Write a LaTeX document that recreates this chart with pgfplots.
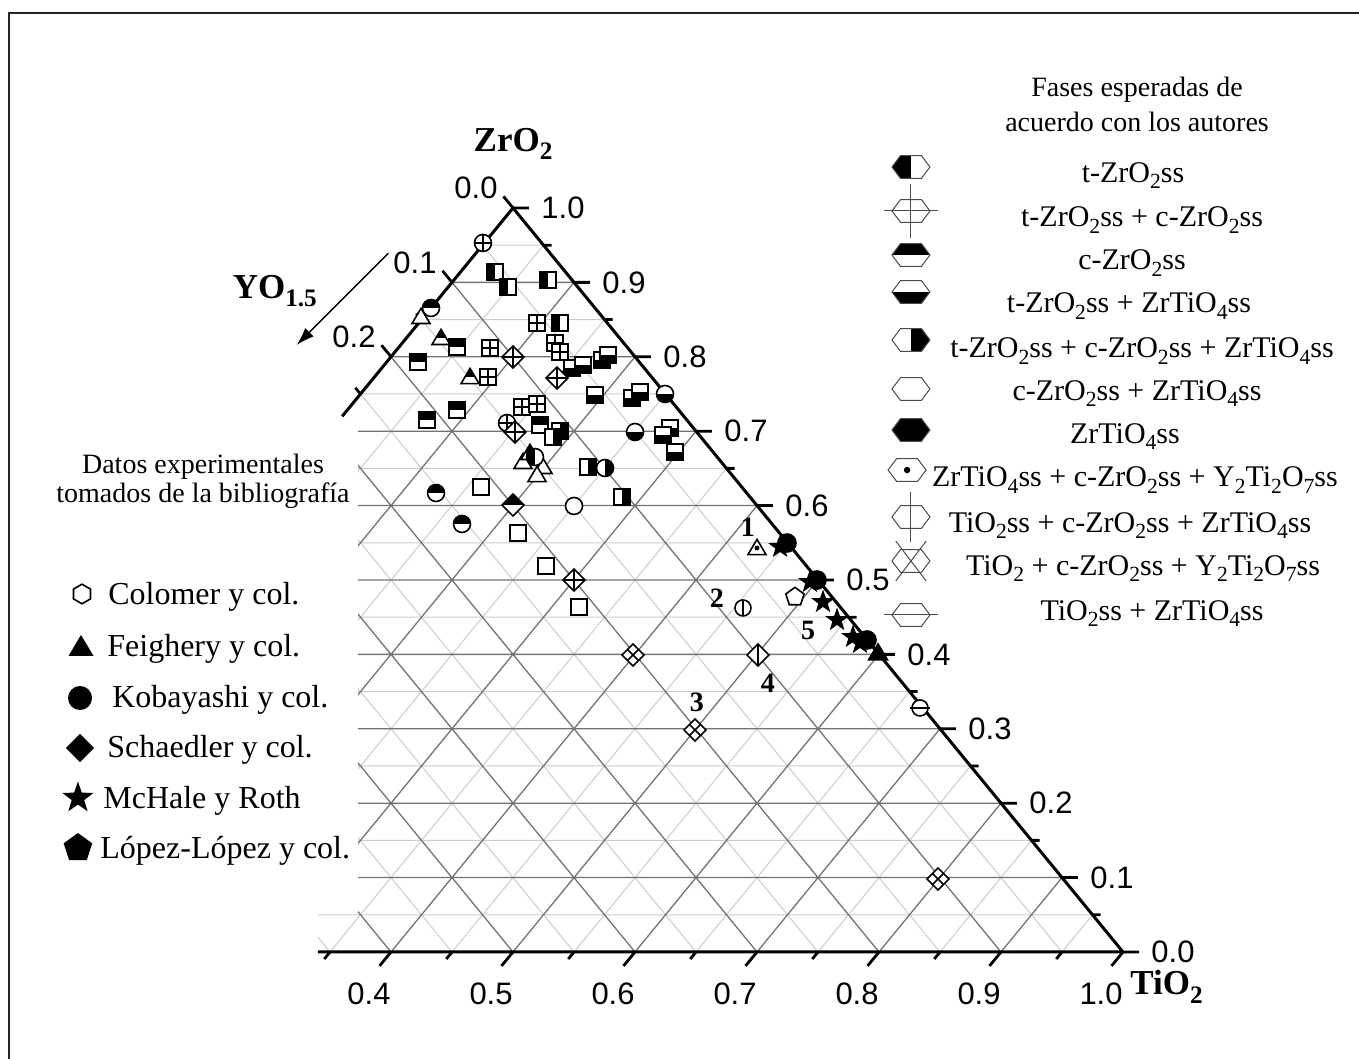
\documentclass[border=0pt]{standalone}
\usepackage{pgfplots}
\pgfplotsset{compat=1.18}
\usepackage{graphicx}
\usepackage{fontspec}
\setmainfont{Liberation Serif}
\newfontfamily\sansf{Liberation Sans}
\usetikzlibrary{arrows.meta}
\newcommand\sub[1]{\raisebox{-0.5ex}{\scalebox{0.72}{#1}}}
\newcommand\tickf{\sansf\fontsize{15.5}{18}\selectfont}
\newcommand\legf{\fontsize{15}{18}\selectfont}
\newcommand\leftf{\fontsize{16}{19}\selectfont}
\newcommand\boldf{\bfseries\fontsize{17.5}{20}\selectfont}
% ---- mark construction helpers
\def\pp#1#2{\pgfpoint{#1\pgfplotmarksize}{#2\pgfplotmarksize}}
\def\Mto#1#2{\pgfpathmoveto{\pp{#1}{#2}}}
\def\Lto#1#2{\pgfpathlineto{\pp{#1}{#2}}}
\def\shpsq{\pgfpathrectangle{\pp{-1}{-1}}{\pp{2}{2}}}
\def\shpci{\pgfpathcircle{\pgfpointorigin}{\pgfplotmarksize}}
\def\shptr{\Mto{0}{1.05}\Lto{1.1}{-0.8}\Lto{-1.1}{-0.8}\pgfpathclose}
\def\shpdi{\Mto{0}{1}\Lto{1}{0}\Lto{0}{-1}\Lto{-1}{0}\pgfpathclose}
\def\shphx{\Mto{-1}{0}\Lto{-0.55}{0.6}\Lto{0.55}{0.6}\Lto{1}{0}\Lto{0.55}{-0.6}\Lto{-0.55}{-0.6}\pgfpathclose}
\def\shphr{\Mto{0}{1}\Lto{0.866}{0.5}\Lto{0.866}{-0.5}\Lto{0}{-1}\Lto{-0.866}{-0.5}\Lto{-0.866}{0.5}\pgfpathclose}
\def\shpst{\Mto{0}{1}\Lto{0.235}{0.324}\Lto{0.951}{0.309}\Lto{0.380}{-0.124}\Lto{0.588}{-0.809}\Lto{0}{-0.4}\Lto{-0.588}{-0.809}\Lto{-0.380}{-0.124}\Lto{-0.951}{0.309}\Lto{-0.235}{0.324}\pgfpathclose}
\def\shppe{\Mto{0}{1}\Lto{0.951}{0.309}\Lto{0.588}{-0.809}\Lto{-0.588}{-0.809}\Lto{-0.951}{0.309}\pgfpathclose}
\def\patL{\pgfpathrectangle{\pp{-3}{-3}}{\pp{3}{6}}\pgfusepath{fill}}
\def\patR{\pgfpathrectangle{\pp{0}{-3}}{\pp{3}{6}}\pgfusepath{fill}}
\def\patT{\pgfpathrectangle{\pp{-3}{0}}{\pp{6}{3}}\pgfusepath{fill}}
\def\patB{\pgfpathrectangle{\pp{-3}{-3}}{\pp{6}{3}}\pgfusepath{fill}}
\def\patF{\pgfpathrectangle{\pp{-3}{-3}}{\pp{6}{6}}\pgfusepath{fill}}
\def\patO{}
\def\ovN{}
\def\ovP{\Mto{-1}{0}\Lto{1}{0}\Mto{0}{-1}\Lto{0}{1}\pgfusepath{stroke}}
\def\ovQ{\Mto{-1.4}{0}\Lto{1.4}{0}\Mto{0}{-1.4}\Lto{0}{1.4}\pgfusepath{stroke}}
\def\ovV{\Mto{0}{-1.3}\Lto{0}{1.3}\pgfusepath{stroke}}
\def\ovv{\Mto{0}{-1}\Lto{0}{1}\pgfusepath{stroke}}
\def\ovH{\Mto{-1.4}{0}\Lto{1.4}{0}\pgfusepath{stroke}}
\def\ovh{\Mto{-1.3}{0}\Lto{1.3}{0}\pgfusepath{stroke}}
\def\ovX{\Mto{-0.8}{-1.05}\Lto{0.8}{1.05}\Mto{-0.8}{1.05}\Lto{0.8}{-1.05}\pgfusepath{stroke}}
\def\ovx{\Mto{-0.5}{-0.5}\Lto{0.5}{0.5}\Mto{-0.5}{0.5}\Lto{0.5}{-0.5}\pgfusepath{stroke}}
\def\ovD{\pgfpathcircle{\pgfpointorigin}{0.17\pgfplotmarksize}\pgfsetfillcolor{black}\pgfusepath{fill}}
\def\ovd{\pgfpathcircle{\pgfpointorigin}{0.3\pgfplotmarksize}\pgfsetfillcolor{black}\pgfusepath{fill}}
\newcommand\mkmark[4]{%
  \pgfdeclareplotmark{#1}{%
    \pgfsetfillcolor{white}\csname shp#2\endcsname\pgfusepath{fill}%
    \begin{pgfscope}\csname shp#2\endcsname\pgfusepath{clip}\pgfsetfillcolor{black}\csname pat#3\endcsname\end{pgfscope}%
    \csname shp#2\endcsname\pgfusepath{stroke}%
    \csname ov#4\endcsname}}
\mkmark{sqL}{sq}{L}{N}\mkmark{sqR}{sq}{R}{N}\mkmark{sqT}{sq}{T}{N}\mkmark{sqB}{sq}{B}{N}
\mkmark{sqP}{sq}{O}{P}\mkmark{sqO}{sq}{O}{N}
\mkmark{ciT}{ci}{T}{N}\mkmark{ciB}{ci}{B}{N}\mkmark{ciL}{ci}{L}{N}\mkmark{ciR}{ci}{R}{N}
\mkmark{ciO}{ci}{O}{N}\mkmark{ciP}{ci}{O}{P}\mkmark{ciV}{ci}{O}{v}\mkmark{ciH}{ci}{O}{h}\mkmark{ciF}{ci}{F}{N}
\mkmark{trO}{tr}{O}{N}\mkmark{trT}{tr}{T}{N}\mkmark{trD}{tr}{O}{d}\mkmark{trF}{tr}{F}{N}
\mkmark{diP}{di}{O}{P}\mkmark{diT}{di}{T}{N}\mkmark{diX}{di}{O}{x}\mkmark{diV}{di}{O}{v}\mkmark{diF}{di}{F}{N}
\mkmark{stF}{st}{F}{N}\mkmark{peO}{pe}{O}{N}\mkmark{peF}{pe}{F}{N}\mkmark{hrO}{hr}{O}{N}
\mkmark{hxL}{hx}{L}{N}\mkmark{hxQ}{hx}{O}{Q}\mkmark{hxT}{hx}{T}{N}\mkmark{hxB}{hx}{B}{N}
\mkmark{hxR}{hx}{R}{N}\mkmark{hxO}{hx}{O}{N}\mkmark{hxF}{hx}{F}{N}\mkmark{hxD}{hx}{O}{D}
\mkmark{hxV}{hx}{O}{V}\mkmark{hxX}{hx}{O}{X}\mkmark{hxH}{hx}{O}{H}
\pgfplotsset{
  dm/.style={black, only marks, mark=#1, mark options={line width=0.8pt}},
  lm/.style={black!70, only marks, mark=#1, mark size=9.5pt, mark options={line width=0.5pt}},
}
\begin{document}
\begin{tikzpicture}
\begin{axis}[
  scale only axis, width=679.5pt, height=529.5pt,
  xmin=0.079508, xmax=1.193443, ymin=-0.143817, ymax=1.279570,
  hide axis, clip=false, unbounded coords=jump,
]
% ---------- frame
\addplot[black!85, line width=1.2pt] coordinates {(0.0869,-0.1438) (0.0869,1.2621) (1.1934,1.2621)};
% ---------- minor grid
\addplot[black!20, line width=0.5pt] coordinates {
(0.34,0.05)(0.975,0.05) (nan,nan) (0.34,0.15)(0.925,0.15) (nan,nan)
(0.34,0.25)(0.875,0.25) (nan,nan) (0.34,0.35)(0.825,0.35) (nan,nan)
(0.34,0.45)(0.775,0.45) (nan,nan) (0.34,0.55)(0.725,0.55) (nan,nan)
(0.34,0.65)(0.675,0.65) (nan,nan) (0.375,0.75)(0.625,0.75) (nan,nan)
(0.425,0.85)(0.575,0.85) (nan,nan) (0.475,0.95)(0.525,0.95) (nan,nan)
(0.34,0.58)(0.525,0.95) (nan,nan) (0.34,0.38)(0.575,0.85) (nan,nan)
(0.34,0.18)(0.625,0.75) (nan,nan) (0.35,0)(0.675,0.65) (nan,nan)
(0.45,0)(0.725,0.55) (nan,nan) (0.55,0)(0.775,0.45) (nan,nan)
(0.65,0)(0.825,0.35) (nan,nan) (0.75,0)(0.875,0.25) (nan,nan)
(0.85,0)(0.925,0.15) (nan,nan) (0.95,0)(0.975,0.05) (nan,nan)
(0.95,0)(0.475,0.95) (nan,nan) (0.85,0)(0.425,0.85) (nan,nan)
(0.75,0)(0.375,0.75) (nan,nan) (0.65,0)(0.34,0.62) (nan,nan)
(0.55,0)(0.34,0.42) (nan,nan) (0.45,0)(0.34,0.22) (nan,nan)
(0.35,0)(0.34,0.02)};
% ---------- major grid
\addplot[black!55, line width=0.65pt] coordinates {
(0.34,0.1)(0.95,0.1) (nan,nan) (0.34,0.2)(0.9,0.2) (nan,nan)
(0.34,0.3)(0.85,0.3) (nan,nan) (0.34,0.4)(0.8,0.4) (nan,nan)
(0.34,0.5)(0.75,0.5) (nan,nan) (0.34,0.6)(0.7,0.6) (nan,nan)
(0.35,0.7)(0.65,0.7) (nan,nan) (0.4,0.8)(0.6,0.8) (nan,nan)
(0.45,0.9)(0.55,0.9) (nan,nan)
(0.34,0.48)(0.55,0.9) (nan,nan) (0.34,0.28)(0.6,0.8) (nan,nan)
(0.34,0.08)(0.65,0.7) (nan,nan) (0.4,0)(0.7,0.6) (nan,nan)
(0.5,0)(0.75,0.5) (nan,nan) (0.6,0)(0.8,0.4) (nan,nan)
(0.7,0)(0.85,0.3) (nan,nan) (0.8,0)(0.9,0.2) (nan,nan)
(0.9,0)(0.95,0.1) (nan,nan)
(0.9,0)(0.45,0.9) (nan,nan) (0.8,0)(0.4,0.8) (nan,nan)
(0.7,0)(0.35,0.7) (nan,nan) (0.6,0)(0.34,0.52) (nan,nan)
(0.5,0)(0.34,0.32) (nan,nan) (0.4,0)(0.34,0.12)};
% ---------- white band behind the left legend
\addplot[fill=white, draw=none] coordinates {(0.33,0.054) (0.373,0.054) (0.373,0.715) (0.33,0.715)} -- cycle;
% ---------- triangle edges and ticks
\addplot[black, line width=1.5pt] coordinates {(0.34,0) (1,0) (0.5,1) (0.36,0.72)};
\addplot[black, line width=1.4pt] coordinates {
(1,0)(1.0131,0) (nan,nan) (0.95,0.1)(0.9631,0.1) (nan,nan) (0.9,0.2)(0.9131,0.2) (nan,nan)
(0.85,0.3)(0.8631,0.3) (nan,nan) (0.8,0.4)(0.8131,0.4) (nan,nan) (0.75,0.5)(0.7631,0.5) (nan,nan)
(0.7,0.6)(0.7131,0.6) (nan,nan) (0.65,0.7)(0.6631,0.7) (nan,nan) (0.6,0.8)(0.6131,0.8) (nan,nan)
(0.55,0.9)(0.5631,0.9) (nan,nan) (0.5,1)(0.5131,1) (nan,nan)
(0.975,0.05)(0.9816,0.05) (nan,nan) (0.925,0.15)(0.9316,0.15) (nan,nan) (0.875,0.25)(0.8816,0.25) (nan,nan)
(0.825,0.35)(0.8316,0.35) (nan,nan) (0.775,0.45)(0.7816,0.45) (nan,nan) (0.725,0.55)(0.7316,0.55) (nan,nan)
(0.675,0.65)(0.6816,0.65) (nan,nan) (0.625,0.75)(0.6316,0.75) (nan,nan) (0.575,0.85)(0.5816,0.85) (nan,nan)
(0.525,0.95)(0.5316,0.95) (nan,nan)
(0.4,0)(0.3906,-0.0187) (nan,nan) (0.5,0)(0.4906,-0.0187) (nan,nan) (0.6,0)(0.5906,-0.0187) (nan,nan)
(0.7,0)(0.6906,-0.0187) (nan,nan) (0.8,0)(0.7906,-0.0187) (nan,nan) (0.9,0)(0.8906,-0.0187) (nan,nan)
(1,0)(0.9906,-0.0187) (nan,nan)
(0.35,0)(0.3453,-0.0094) (nan,nan) (0.45,0)(0.4453,-0.0094) (nan,nan) (0.55,0)(0.5453,-0.0094) (nan,nan)
(0.65,0)(0.6453,-0.0094) (nan,nan) (0.75,0)(0.7453,-0.0094) (nan,nan) (0.85,0)(0.8453,-0.0094) (nan,nan)
(0.95,0)(0.9453,-0.0094) (nan,nan)
(0.5,1)(0.4922,1.0156) (nan,nan) (0.45,0.9)(0.4422,0.9156) (nan,nan) (0.4,0.8)(0.3922,0.8156) (nan,nan)
(0.475,0.95)(0.4708,0.9583) (nan,nan) (0.425,0.85)(0.4208,0.8583) (nan,nan) (0.375,0.75)(0.3708,0.7583)};
% ---------- arrow of YO1.5
\addplot[black, line width=0.7pt, -{Latex[length=9pt,width=6pt]}] coordinates {(0.3978,0.9391) (0.3227,0.8159)};
% ---------- data: squares
\addplot[dm=sqL, mark size=3.9pt] coordinates {(0.4852,0.9140) (0.4959,0.8938) (0.5287,0.9032) (0.5385,0.8454)};
\addplot[dm=sqT, mark size=3.9pt] coordinates {(0.4221,0.7930) (0.4295,0.7151) (0.4541,0.7285) (0.4541,0.8132) (0.5221,0.7083)};
\addplot[dm=sqP, mark size=3.9pt] coordinates {(0.5197,0.8454) (0.4811,0.8118) (0.5344,0.8185) (0.5385,0.8065) (0.4795,0.7728) (0.5074,0.7325) (0.5197,0.7366)};
\addplot[dm=sqB, mark size=3.9pt] coordinates {(0.5484,0.7849) (0.5574,0.7890) (0.5730,0.7957) (0.5779,0.8024) (0.5672,0.7487) (0.5975,0.7446) (0.6041,0.7527) (0.6287,0.7043) (0.6230,0.6949) (0.6328,0.6720)};
\addplot[dm=sqR, mark size=3.9pt] coordinates {(0.5385,0.7003) (0.5328,0.6922) (0.5615,0.6519) (0.5893,0.6116)};
\addplot[dm=sqO, mark size=3.9pt] coordinates {(0.4738,0.6250) (0.5041,0.5632) (0.5270,0.5188) (0.5541,0.4637)};
% circles
\addplot[dm=ciT, mark size=4.25pt] coordinates {(0.4328,0.8656) (0.4369,0.6169) (0.4582,0.5753)};
\addplot[dm=ciB, mark size=4.25pt] coordinates {(0.6246,0.7500) (0.6000,0.6989)};
\addplot[dm=ciR, mark size=4.25pt] coordinates {(0.5754,0.6505)};
\addplot[dm=ciO, mark size=4.25pt] coordinates {(0.5500,0.5995)};
\addplot[dm=ciP, mark size=4.25pt] coordinates {(0.4754,0.9530) (0.4951,0.7110)};
\addplot[dm=ciV, mark size=4pt] coordinates {(0.6885,0.4624)};
\addplot[dm=ciH, mark size=4pt] coordinates {(0.8336,0.3280)};
% triangles
\addplot[dm=trO, mark size=4.1pt] coordinates {(0.4246,0.8535) (0.5082,0.6586) (0.5246,0.6519) (0.5197,0.6411)};
\addplot[dm=trT, mark size=4.1pt] coordinates {(0.4410,0.8253) (0.4648,0.7728) (0.5139,0.6707)};
\addplot[dm=ciL, mark size=4.25pt] coordinates {(0.5180,0.6653)};
\addplot[dm=trD, mark size=4.1pt] coordinates {(0.7000,0.5430)};
% diamonds
\addplot[dm=diP, mark size=5.5pt] coordinates {(0.5000,0.7997) (0.5361,0.7715) (0.5016,0.6989) (0.5500,0.5000)};
\addplot[dm=diT, mark size=5.5pt] coordinates {(0.5000,0.6008)};
\addplot[dm=diX, mark size=5.5pt] coordinates {(0.5984,0.3992) (0.6492,0.2984) (0.8484,0.0981)};
\addplot[dm=diV, mark size=5.5pt] coordinates {(0.7008,0.3992)};
% pentagon, stars, filled markers on the edge
\addplot[dm=peO, mark size=4.8pt] coordinates {(0.7311,0.4772)};
\addplot[dm=ciF, mark size=4.5pt] coordinates {(0.7246,0.5497) (0.7492,0.5000) (0.7902,0.4194)};
\addplot[dm=stF, mark size=5pt] coordinates {(0.7189,0.5444) (0.7434,0.4973) (0.7541,0.4704) (0.7656,0.4462) (0.7787,0.4234) (0.7844,0.4153)};
\addplot[dm=trF, mark size=4.3pt] coordinates {(0.7992,0.4019)};
% ---------- right legend markers
\addplot[lm=hxL] coordinates {(0.8262,1.0551)};
\addplot[lm=hxQ] coordinates {(0.8262,0.9960)};
\addplot[lm=hxT] coordinates {(0.8262,0.9368)};
\addplot[lm=hxB] coordinates {(0.8262,0.8871)};
\addplot[lm=hxR] coordinates {(0.8262,0.8226)};
\addplot[lm=hxO] coordinates {(0.8262,0.7567)};
\addplot[lm=hxF] coordinates {(0.8262,0.7016)};
\addplot[lm=hxD] coordinates {(0.8230,0.6478)};
\addplot[lm=hxV] coordinates {(0.8262,0.5847)};
\addplot[lm=hxX] coordinates {(0.8262,0.5255)};
\addplot[lm=hxH] coordinates {(0.8262,0.4530)};
% ---------- left legend markers
\addplot[dm=hrO, mark size=4.9pt] coordinates {(0.1467,0.4812)};
\addplot[dm=trF, mark size=5pt] coordinates {(0.1459,0.4099)};
\addplot[dm=ciF, mark size=5.6pt] coordinates {(0.1451,0.3414)};
\addplot[dm=diF, mark size=6.5pt] coordinates {(0.1451,0.2742)};
\addplot[dm=stF, mark size=7pt] coordinates {(0.1434,0.2070)};
\addplot[dm=peF, mark size=7pt] coordinates {(0.1434,0.1398)};
% ---------- texts
\node[anchor=base, font=\fontsize{14}{17}\selectfont] at (1.0115,1.1492) {Fases esperadas de};
\node[anchor=base, font=\fontsize{14}{17}\selectfont] at (1.0115,1.1022) {acuerdo con los autores};
\node[anchor=base, font=\legf] at (1.0082,1.0349) {t-ZrO\sub{2}ss};
\node[anchor=base, font=\legf] at (1.0156,0.9745) {t-ZrO\sub{2}ss + c-ZrO\sub{2}ss};
\node[anchor=base, font=\legf] at (1.0074,0.9167) {c-ZrO\sub{2}ss};
\node[anchor=base, font=\legf] at (1.0049,0.8589) {t-ZrO\sub{2}ss + ZrTiO\sub{4}ss};
\node[anchor=base, font=\legf] at (1.0156,0.7984) {t-ZrO\sub{2}ss + c-ZrO\sub{2}ss + ZrTiO\sub{4}ss};
\node[anchor=base, font=\legf] at (1.0115,0.7419) {c-ZrO\sub{2}ss + ZrTiO\sub{4}ss};
\node[anchor=base, font=\legf] at (1.0016,0.6841) {ZrTiO\sub{4}ss};
\node[anchor=base, font=\legf] at (1.0098,0.6250) {ZrTiO\sub{4}ss + c-ZrO\sub{2}ss + Y\sub{2}Ti\sub{2}O\sub{7}ss};
\node[anchor=base, font=\legf] at (1.0057,0.5645) {TiO\sub{2}ss + c-ZrO\sub{2}ss + ZrTiO\sub{4}ss};
\node[anchor=base, font=\legf] at (1.0164,0.5067) {TiO\sub{2} + c-ZrO\sub{2}ss + Y\sub{2}Ti\sub{2}O\sub{7}ss};
\node[anchor=base, font=\legf] at (1.0238,0.4462) {TiO\sub{2}ss + ZrTiO\sub{4}ss};
\node[anchor=base, font=\fontsize{14}{17}\selectfont] at (0.2459,0.6438) {Datos experimentales};
\node[anchor=base, font=\fontsize{14}{17}\selectfont] at (0.2459,0.6035) {tomados de la bibliografía};
\node[anchor=base west, font=\leftf, inner sep=0pt] at (0.1680,0.4664) {Colomer y col.};
\node[anchor=base west, font=\leftf, inner sep=0pt] at (0.1672,0.3965) {Feighery y col.};
\node[anchor=base west, font=\leftf, inner sep=0pt] at (0.1713,0.3280) {Kobayashi y col.};
\node[anchor=base west, font=\leftf, inner sep=0pt] at (0.1672,0.2608) {Schaedler y col.};
\node[anchor=base west, font=\leftf, inner sep=0pt] at (0.1639,0.1935) {McHale y Roth};
\node[anchor=base west, font=\leftf, inner sep=0pt] at (0.1615,0.1263) {López-López y col.};
% axis titles
\node[anchor=base, font=\boldf] at (0.5,1.0753) {ZrO\sub{2}};
\node[anchor=base west, font=\boldf, inner sep=0pt] at (0.2700,0.8790) {YO\sub{1.5}};
\node[anchor=base west, font=\boldf, inner sep=0pt] at (1.0057,-0.0578) {TiO\sub{2}};
% numbered points
\node[font=\bfseries\fontsize{14}{16}\selectfont] at (0.6926,0.5712) {1};
\node[font=\bfseries\fontsize{14}{16}\selectfont] at (0.6672,0.4758) {2};
\node[font=\bfseries\fontsize{14}{16}\selectfont] at (0.6508,0.3360) {3};
\node[font=\bfseries\fontsize{14}{16}\selectfont] at (0.7090,0.3616) {4};
\node[font=\bfseries\fontsize{14}{16}\selectfont] at (0.7418,0.4328) {5};
% tick labels, right side (ZrO2)
\node[anchor=west, font=\tickf, inner sep=0pt] at (1.023,0) {0.0};
\node[anchor=west, font=\tickf, inner sep=0pt] at (0.973,0.1) {0.1};
\node[anchor=west, font=\tickf, inner sep=0pt] at (0.923,0.2) {0.2};
\node[anchor=west, font=\tickf, inner sep=0pt] at (0.873,0.3) {0.3};
\node[anchor=west, font=\tickf, inner sep=0pt] at (0.823,0.4) {0.4};
\node[anchor=west, font=\tickf, inner sep=0pt] at (0.773,0.5) {0.5};
\node[anchor=west, font=\tickf, inner sep=0pt] at (0.723,0.6) {0.6};
\node[anchor=west, font=\tickf, inner sep=0pt] at (0.673,0.7) {0.7};
\node[anchor=west, font=\tickf, inner sep=0pt] at (0.623,0.8) {0.8};
\node[anchor=west, font=\tickf, inner sep=0pt] at (0.573,0.9) {0.9};
\node[anchor=west, font=\tickf, inner sep=0pt] at (0.523,1.0) {1.0};
% bottom (TiO2)
\node[font=\tickf, inner sep=0pt] at (0.382,-0.0565) {0.4};
\node[font=\tickf, inner sep=0pt] at (0.482,-0.0565) {0.5};
\node[font=\tickf, inner sep=0pt] at (0.582,-0.0565) {0.6};
\node[font=\tickf, inner sep=0pt] at (0.682,-0.0565) {0.7};
\node[font=\tickf, inner sep=0pt] at (0.782,-0.0565) {0.8};
\node[font=\tickf, inner sep=0pt] at (0.882,-0.0565) {0.9};
\node[font=\tickf, inner sep=0pt] at (0.982,-0.0565) {1.0};
% left (YO1.5)
\node[font=\tickf, inner sep=0pt] at (0.4697,1.0269) {0.0};
\node[font=\tickf, inner sep=0pt] at (0.4197,0.9269) {0.1};
\node[font=\tickf, inner sep=0pt] at (0.3697,0.8269) {0.2};
\end{axis}
\pgfresetboundingbox
\path (current axis.south west) rectangle (current axis.north east);
\end{tikzpicture}
\end{document}
